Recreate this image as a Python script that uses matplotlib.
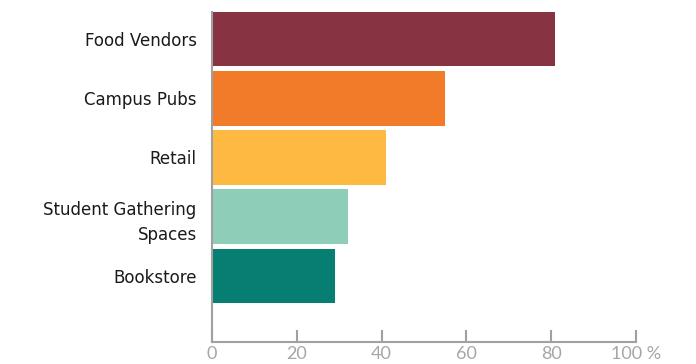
import matplotlib.pyplot as plt

# Share of respondents by campus venue
categories = ["Food Vendors", "Campus Pubs", "Retail", "Student Gathering\nSpaces", "Bookstore"]
values = [81, 55, 41, 32, 29]
colors = ["#873341", "#f27b29", "#fdb942", "#8ecdb7", "#067f72"]
tick_values = [0, 20, 40, 60, 80, 100]
tick_labels = ["0", "20", "40", "60", "80", "100 %"]

plt.rcParams["font.family"] = ["DejaVu Sans"]

fig = plt.figure(figsize=(6.96, 3.64), dpi=100)
ax = fig.add_axes([212 / 696, 22 / 364, 424 / 696, 330 / 364])

y = list(range(len(categories)))
ax.barh(y, values, height=0.92, color=colors)

ax.set_xlim(0, 100)
ax.set_ylim(5.12, -0.46)
ax.set_yticks(y)
ax.set_yticklabels(categories, fontsize=12, color="#1a1a1a", linespacing=1.55)
ax.set_xticks(tick_values)
ax.set_xticklabels(tick_labels, fontsize=13, color="#a6a6a6", family="Lato")

gray = "#a0a0a0"
for side in ["top", "right"]:
    ax.spines[side].set_visible(False)
ax.spines["left"].set_color(gray)
ax.spines["bottom"].set_color(gray)
ax.spines["left"].set_linewidth(1.5)
ax.spines["bottom"].set_linewidth(1.5)
ax.tick_params(axis="y", length=0, pad=11)
ax.tick_params(axis="x", direction="in", length=9, width=1.5, color=gray, pad=3)

fig.savefig("out.png", dpi=100)
